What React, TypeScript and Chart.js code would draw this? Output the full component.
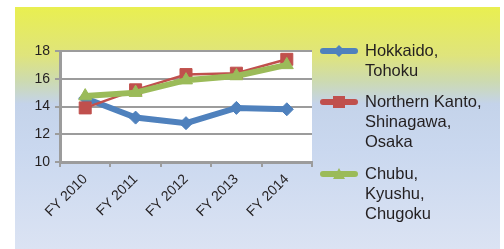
import React, { useEffect, useRef } from "react";
import { Chart, registerables } from "chart.js";

Chart.register(...registerables);

const categories = ["FY 2010", "FY 2011", "FY 2012", "FY 2013", "FY 2014"];
const hokkaidoTohoku = [14.6, 13.2, 12.8, 13.9, 13.8];
const northernKantoShinagawaOsaka = [13.9, 15.2, 16.3, 16.4, 17.4];
const chubuKyushuChugoku = [14.75, 15.0, 15.9, 16.2, 17.0];
const yTicks = [10, 12, 14, 16, 18];

const seriesNames = [
  ["Hokkaido,", "Tohoku"],
  ["Northern Kanto,", "Shinagawa,", "Osaka"],
  ["Chubu,", "Kyushu,", "Chugoku"],
];
const colors = ["#4f81bd", "#c0504d", "#9bbb59"];
const FONT = "'Liberation Sans', Arial, Helvetica, sans-serif";

const whitePlot = {
  id: "whitePlot",
  beforeDraw(chart: any) {
    const { ctx, chartArea } = chart;
    ctx.save();
    ctx.fillStyle = "#ffffff";
    ctx.fillRect(chartArea.left, chartArea.top, chartArea.right - chartArea.left, chartArea.bottom - chartArea.top);
    ctx.restore();
  },
};

function LegendMarker({ idx }: { idx: number }) {
  const c = colors[idx];
  let marker: React.ReactNode = null;
  if (idx === 0) {
    marker = <polygon points="19,0 25,6 19,12 13,6" fill={c} />;
  } else if (idx === 1) {
    marker = <rect x="13" y="0" width="12" height="12" fill={c} />;
  } else {
    marker = <polygon points="19,0 25,11 13,11" fill={c} />;
  }
  return (
    <svg width="38" height="12" style={{ position: "absolute", left: 0, top: 0 }}>
      <line x1="3" y1="6" x2="35" y2="6" stroke={c} strokeWidth="6" strokeLinecap="round" />
      {marker}
    </svg>
  );
}

export default function App() {
  const ref = useRef<HTMLCanvasElement>(null);
  useEffect(() => {
    const mk = (idx: number, data: number[], style: any, width: number, radius: number, order: number) => ({
      label: seriesNames[idx].join(" "),
      data,
      borderColor: colors[idx],
      backgroundColor: colors[idx],
      borderWidth: width,
      pointStyle: style,
      pointRadius: radius,
      pointBorderWidth: 1,
      pointBorderColor: colors[idx],
      pointBackgroundColor: colors[idx],
      tension: 0,
      order,
    });
    const chart = new Chart(ref.current!, {
      type: "line",
      data: {
        labels: categories,
        datasets: [
          mk(0, hokkaidoTohoku, "rectRot", 6, 6.5, 3),
          mk(1, northernKantoShinagawaOsaka, "rect", 2.5, 8.5, 2),
          mk(2, chubuKyushuChugoku, "triangle", 6, 7.5, 1),
        ],
      },
      options: {
        animation: false,
        responsive: false,
        maintainAspectRatio: false,
        layout: { padding: { left: 0, top: 51, right: 192, bottom: 0 } },
        plugins: { legend: { display: false }, tooltip: { enabled: false } },
        scales: {
          x: {
            offset: true,
            grid: {
              offset: true,
              drawOnChartArea: false,
              drawTicks: true,
              tickLength: 5,
              color: "#9c9c9c",
              lineWidth: 2,
            },
            border: { display: true, color: "#9c9c9c", width: 3 },
            ticks: {
              minRotation: 45,
              maxRotation: 45,
              padding: 4,
              color: "#231f20",
              font: { family: FONT, size: 14 },
            },
            afterFit(scale: any) {
              scale.height = 87;
            },
          },
          y: {
            min: 10,
            max: 18,
            afterBuildTicks(scale: any) {
              scale.ticks = yTicks.map((v) => ({ value: v }));
            },
            grid: {
              color: "#9c9c9c",
              lineWidth: 2,
              drawTicks: true,
              tickLength: 5,
            },
            border: { display: true, color: "#9c9c9c", width: 3 },
            ticks: {
              padding: 5,
              color: "#231f20",
              font: { family: FONT, size: 14 },
            },
            afterFit(scale: any) {
              scale.width = 60;
            },
          },
        },
      },
      plugins: [whitePlot],
    });
    return () => chart.destroy();
  }, []);

  const legendTops = [40, 91, 163];
  return (
    <div style={{ position: "fixed", left: 0, top: 0, width: 504, height: 249, background: "#ffffff", overflow: "hidden" }}>
      <div
        style={{
          position: "absolute",
          left: 15,
          top: 7,
          width: 485,
          height: 242,
          background:
            "linear-gradient(to bottom, #e9ef50 0%, #dfe47c 20%, #ccdab2 31%, #c4d3ea 40%, #cad8ef 60%, #dbe3f3 100%)",
        }}
      />
      <canvas ref={ref} width={504} height={249} style={{ position: "absolute", left: 0, top: 0, width: 504, height: 249 }} />
      {seriesNames.map((lines, i) => (
        <div key={i} style={{ position: "absolute", left: 320, top: legendTops[i], width: 180 }}>
          <div style={{ position: "absolute", left: 0, top: 5 }}>
            <LegendMarker idx={i} />
          </div>
          <div
            style={{
              position: "absolute",
              left: 45,
              top: 0,
              fontFamily: FONT,
              fontSize: 16.5,
              lineHeight: "20px",
              color: "#231f20",
              whiteSpace: "nowrap",
            }}
          >
            {lines.map((l, j) => (
              <div key={j}>{l}</div>
            ))}
          </div>
        </div>
      ))}
    </div>
  );
}
